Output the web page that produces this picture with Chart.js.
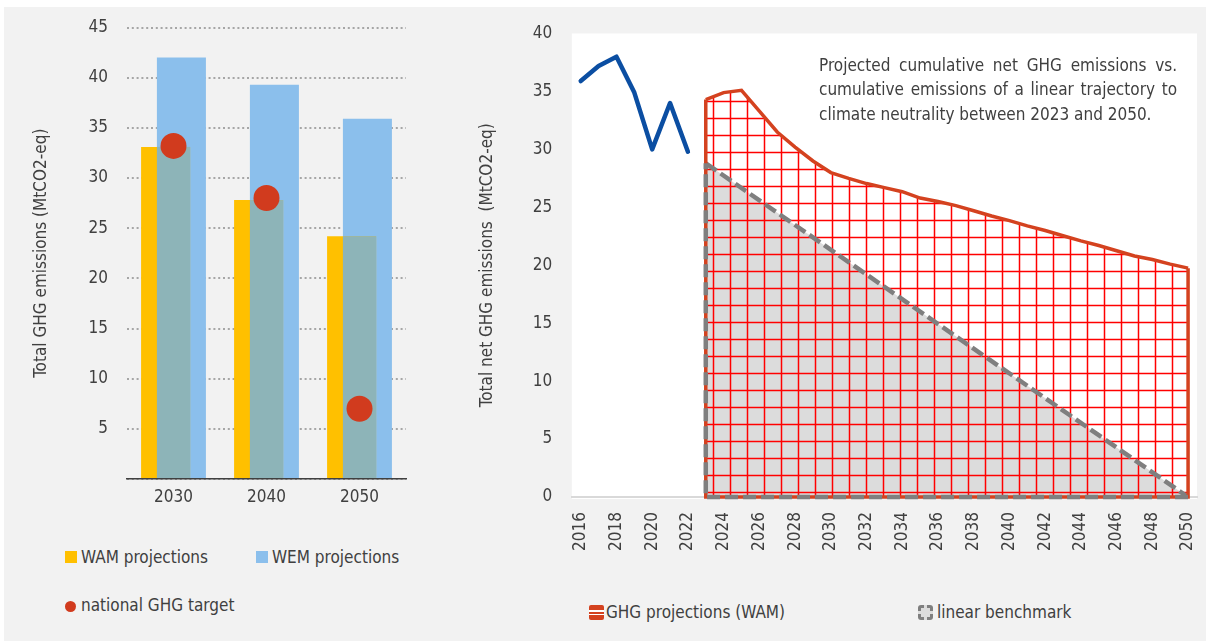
<!DOCTYPE html>
<html>
<head>
<meta charset="utf-8">
<script src="https://cdn.jsdelivr.net/npm/chart.js@4.4.1/dist/chart.umd.min.js"></script>
<style>
  html, body { margin: 0; padding: 0; background: #fff; }
  body {
    width: 1206px; height: 641px; position: relative; overflow: hidden;
    font-family: 'DejaVu Sans Condensed', 'Liberation Sans', sans-serif;
    color: #404040;
  }
  #panel { position: absolute; left: 4px; top: 7px; width: 1202px; height: 634px; background: #f2f2f2; }
  #left-chart { position: absolute; left: 4px; top: 7px; width: 416px; height: 520px; }
  #right-chart { position: absolute; left: 460px; top: 7px; width: 746px; height: 580px; }
  .lg { position: absolute; height: 24px; line-height: 24px; font-size: 17px; white-space: nowrap; }
  .sw { position: absolute; }
  #note { position: absolute; left: 819px; top: 52.5px; width: 358px; font-size: 17px; line-height: 24.7px; }
  #note div { text-align: justify; text-align-last: justify; white-space: nowrap; }
  #note div.last { text-align-last: left; }
</style>
</head>
<body>
<div id="panel"></div>
<canvas id="left-chart" width="416" height="520"></canvas>
<canvas id="right-chart" width="746" height="580"></canvas>

<div id="note">
  <div>Projected cumulative net GHG emissions vs.</div>
  <div>cumulative emissions of a linear trajectory to</div>
  <div class="last">climate neutrality between 2023 and 2050.</div>
</div>

<div id="legend-left"></div>
<div id="legend-right"></div>

<script>
// ---- left chart data ----
const targetYears = ['2030', '2040', '2050'];
const wamProjections = [33.1, 27.8, 24.2];
const wemProjections = [42.0, 39.3, 35.9];
const nationalTarget = [33.2, 28.0, 7.0];
const leftAxisMax = 45;
const leftAxisStep = 5;

// ---- right chart data ----
const years = ['2016', '2017', '2018', '2019', '2020', '2021', '2022', '2023', '2024', '2025', '2026', '2027',
    '2028', '2029', '2030', '2031', '2032', '2033', '2034', '2035', '2036', '2037', '2038', '2039', '2040',
    '2041', '2042', '2043', '2044', '2045', '2046', '2047', '2048', '2049', '2050'];
const historicalNet = [35.9, 37.2, 38.0, 34.9, 30.0, 34.0, 29.8, null, null, null, null, null,
    null, null, null, null, null, null, null, null, null, null, null, null, null,
    null, null, null, null, null, null, null, null, null, null];
const wamNet = [null, null, null, null, null, null, null, 34.3, 34.9, 35.1, 33.3, 31.5,
    30.2, 29.0, 28.0, 27.5, 27.05, 26.7, 26.35, 25.8, 25.5, 25.15, 24.7, 24.25, 23.85,
    23.4, 23.0, 22.55, 22.1, 21.7, 21.25, 20.8, 20.5, 20.1, 19.75];
const linearBenchmark = [null, null, null, null, null, null, null, 28.8, null, null, null, null,
    null, null, null, null, null, null, null, null, null, null, null, null, null,
    null, null, null, null, null, null, null, null, null, 0];
const rightAxisMax = 40;
const rightAxisStep = 5;

const WAM_COLOR = '#ffc000';
const WEM_COLOR = '#8bbfec';
const OVERLAP_COLOR = '#8db4b8';
const TARGET_COLOR = '#d13b1e';
const HIST_COLOR = '#0b4ea2';
const WAM_LINE = '#d4421f';
const GRID_RED = '#ff0000';
const BENCH_LINE = '#7f7f7f';
const BENCH_FILL = '#dcdcdc';
const NO_COLOR = 'rgba(0,0,0,0)';

Chart.defaults.font.family = "'DejaVu Sans Condensed', 'Liberation Sans', sans-serif";
Chart.defaults.font.size = 17;
Chart.defaults.color = '#404040';

// where WAM and WEM bars overlap, paint the mixed colour
const overlapPlugin = {
    id: 'barOverlap',
    afterDatasetDraw(chart, args) {
        if (args.index !== 0) return;
        const a = chart.getDatasetMeta(0).data;
        const b = chart.getDatasetMeta(1).data;
        const ctx = chart.ctx;
        ctx.save();
        ctx.fillStyle = OVERLAP_COLOR;
        a.forEach((barA, i) => {
            if (!b[i]) return;
            const pa = barA.getProps(['x', 'y', 'width', 'base'], true);
            const pb = b[i].getProps(['x', 'y', 'width', 'base'], true);
            const left = Math.max(pa.x - pa.width / 2, pb.x - pb.width / 2);
            const right = Math.min(pa.x + pa.width / 2, pb.x + pb.width / 2);
            const top = Math.max(pa.y, pb.y);
            const bottom = Math.min(pa.base, pb.base);
            if (right > left && bottom > top) ctx.fillRect(left, top, right - left, bottom - top);
        });
        ctx.restore();
    }
};

new Chart(document.getElementById('left-chart'), {
    type: 'bar',
    data: {
        labels: targetYears,
        datasets: [
            { label: 'WAM projections', data: wamProjections, backgroundColor: WAM_COLOR, order: 1 },
            { label: 'WEM projections', data: wemProjections, backgroundColor: WEM_COLOR, order: 2 },
            {
                type: 'line', label: 'national GHG target', data: nationalTarget, showLine: false,
                pointRadius: 13, pointBackgroundColor: TARGET_COLOR, pointBorderWidth: 0, order: 0
            }
        ]
    },
    options: {
        responsive: false,
        animation: false,
        events: [],
        categoryPercentage: 0.34,
        barPercentage: 3.1,
        layout: { padding: { left: 23, right: 14, top: 20.5, bottom: 8 } },
        plugins: { legend: { display: false }, tooltip: { enabled: false } },
        scales: {
            x: {
                grid: { display: false, drawTicks: true, tickLength: 8, tickColor: NO_COLOR },
                border: { display: true, color: '#404040', width: 1.5 },
                ticks: { padding: 0 },
                afterFit: (scale) => { scale.height = 40; }
            },
            y: {
                min: 0, max: leftAxisMax,
                grid: { color: '#a6a6a6', lineWidth: 2, drawTicks: true, tickLength: 19, tickColor: NO_COLOR },
                border: { display: false, dash: [2, 2.8] },
                ticks: { stepSize: leftAxisStep, padding: 0, callback: (v) => (v === 0 ? '' : v) },
                title: { display: true, text: 'Total GHG emissions (MtCO2-eq)', color: '#404040' },
                afterFit: (scale) => { scale.width = 100; }
            }
        }
    },
    plugins: [overlapPlugin]
});

// red large-grid pattern for the WAM area
function makeGridPattern() {
    const c = document.createElement('canvas');
    c.width = 17;
    c.height = 17;
    const g = c.getContext('2d');
    g.strokeStyle = GRID_RED;
    g.lineWidth = 1.5;
    g.beginPath();
    g.moveTo(15.5, 0); g.lineTo(15.5, 17);
    g.moveTo(0, 9.5); g.lineTo(17, 9.5);
    g.stroke();
    return g.createPattern(c, 'repeat');
}

const plotBackground = {
    id: 'plotBackground',
    beforeDraw(chart) {
        const { ctx, chartArea } = chart;
        ctx.save();
        ctx.fillStyle = '#ffffff';
        ctx.fillRect(chartArea.left, chartArea.top, chartArea.right - chartArea.left, chartArea.bottom - chartArea.top + 2);
        ctx.restore();
    }
};

// close the two areas down to zero like the original area borders
const areaEdges = {
    id: 'areaEdges',
    afterDatasetsDraw(chart) {
        const ctx = chart.ctx;
        const y0 = chart.scales.y.getPixelForValue(0);
        const wam = chart.getDatasetMeta(1).data.filter((p) => !p.skip);
        const bench = chart.getDatasetMeta(2).data.filter((p) => !p.skip);
        ctx.save();
        if (wam.length) {
            const f = wam[0], l = wam[wam.length - 1];
            ctx.strokeStyle = WAM_LINE;
            ctx.lineWidth = 3.5;
            ctx.beginPath();
            ctx.moveTo(f.x, f.y); ctx.lineTo(f.x, y0); ctx.lineTo(l.x, y0); ctx.lineTo(l.x, l.y);
            ctx.stroke();
        }
        if (bench.length) {
            const f = bench[0], l = bench[bench.length - 1];
            ctx.strokeStyle = BENCH_LINE;
            ctx.lineWidth = 4.5;
            ctx.setLineDash([13, 5]);
            ctx.beginPath();
            ctx.moveTo(l.x, y0); ctx.lineTo(f.x, y0); ctx.lineTo(f.x, f.y);
            ctx.stroke();
        }
        ctx.restore();
    }
};

new Chart(document.getElementById('right-chart'), {
    type: 'line',
    data: {
        labels: years,
        datasets: [
            {
                label: 'historical', data: historicalNet, borderColor: HIST_COLOR, borderWidth: 4.5,
                borderCapStyle: 'round', borderJoinStyle: 'round', pointRadius: 0, fill: false, order: 0
            },
            {
                label: 'GHG projections (WAM)', data: wamNet, borderColor: WAM_LINE, borderWidth: 3.5,
                backgroundColor: makeGridPattern(), pointRadius: 0, fill: 'origin', order: 1
            },
            {
                label: 'linear benchmark', data: linearBenchmark, borderColor: BENCH_LINE, borderWidth: 4.5,
                borderDash: [13, 5], backgroundColor: BENCH_FILL, pointRadius: 0, fill: 'origin',
                spanGaps: true, order: 2
            }
        ]
    },
    options: {
        responsive: false,
        animation: false,
        events: [],
        layout: { padding: { left: 13, right: 9, top: 26.5, bottom: 10 } },
        plugins: {
            legend: { display: false },
            tooltip: { enabled: false },
            filler: { drawTime: 'beforeDatasetsDraw' }
        },
        scales: {
            x: {
                offset: true,
                grid: { display: false, drawTicks: true, tickLength: 15, tickColor: NO_COLOR },
                border: { display: true, color: '#d9d9d9', width: 2 },
                ticks: {
                    autoSkip: false, maxRotation: 90, minRotation: 90, padding: 0,
                    callback: function (v, i) { return i % 2 === 0 ? this.getLabelForValue(v) : ''; }
                },
                afterFit: (scale) => {
                    scale.height = 80;
                    scale.paddingLeft = 0;
                    scale.paddingRight = 0;
                }
            },
            y: {
                min: 0, max: rightAxisMax,
                grid: { display: false, drawTicks: true, tickLength: 19.5, tickColor: NO_COLOR },
                border: { display: false },
                ticks: { stepSize: rightAxisStep, padding: 0 },
                title: { display: true, text: 'Total net GHG emissions  (MtCO2-eq)', color: '#404040' },
                afterFit: (scale) => { scale.width = 98.8; }
            }
        }
    },
    plugins: [plotBackground, areaEdges]
});

// html legends
function legendItem(parent, swatchCss, textLeft, top, text) {
    const sw = document.createElement('div');
    sw.className = 'sw';
    sw.style.cssText = swatchCss;
    parent.appendChild(sw);
    const t = document.createElement('div');
    t.className = 'lg';
    t.style.left = textLeft + 'px';
    t.style.top = top + 'px';
    t.textContent = text;
    parent.appendChild(t);
}

const legendLeft = document.getElementById('legend-left');
legendItem(legendLeft, `left:65px;top:550.7px;width:12px;height:12px;background:${WAM_COLOR};`, 81, 544.5, 'WAM projections');
legendItem(legendLeft, `left:256px;top:550.7px;width:12px;height:12px;background:${WEM_COLOR};`, 272, 544.5, 'WEM projections');
legendItem(legendLeft, `left:64.5px;top:600.5px;width:11px;height:11px;border-radius:50%;background:${TARGET_COLOR};`, 81, 593, 'national GHG target');

const legendRight = document.getElementById('legend-right');
legendItem(legendRight,
    `left:589px;top:605px;width:15px;height:15px;border-radius:2px;background:linear-gradient(to bottom, ${WAM_LINE} 0 5px, #fff 5px 6.5px, ${WAM_LINE} 6.5px 8.5px, #fff 8.5px 10px, ${WAM_LINE} 10px 15px);`,
    606, 600, 'GHG projections (WAM)');
legendItem(legendRight,
    `left:918px;top:605px;width:9px;height:9px;border:3px dashed ${BENCH_LINE};border-radius:3px;background:${BENCH_FILL};`,
    937, 600, 'linear benchmark');
</script>
</body>
</html>
